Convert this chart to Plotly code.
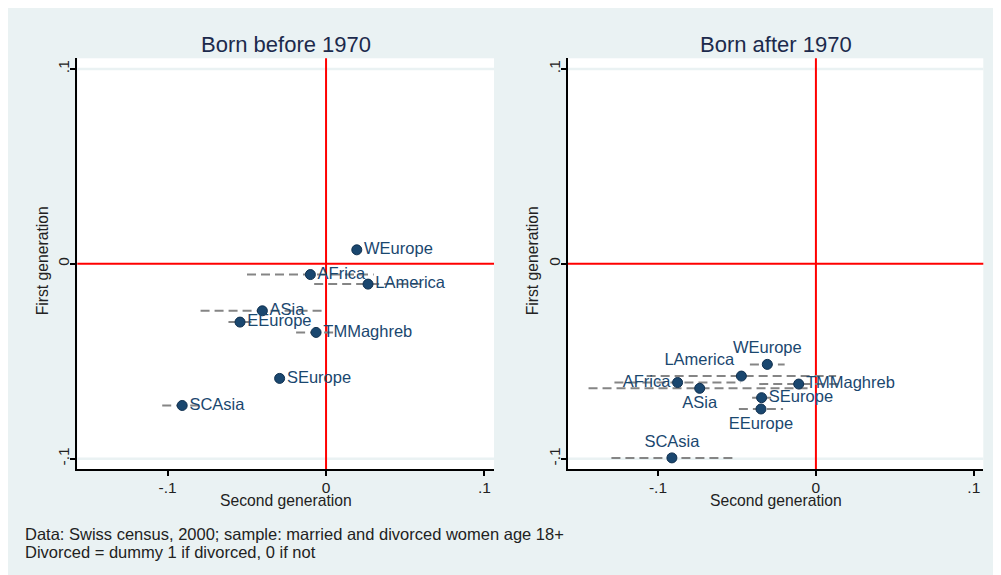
import plotly.graph_objects as go

# Born before 1970
regions_before = ["WEurope", "AFrica", "LAmerica", "ASia", "EEurope", "TMMaghreb", "SEurope", "SCAsia"]
second_before = [0.0194, -0.0099, 0.0265, -0.0402, -0.0543, -0.0063, -0.0293, -0.0908]
first_before = [0.0072, -0.0055, -0.0104, -0.0241, -0.0299, -0.0352, -0.0588, -0.0727]
ci_before = [0.003, 0.040, 0.034, 0.039, 0.0073, 0.0126, 0.0025, 0.0126]

# Born after 1970
regions_after = ["WEurope", "LAmerica", "AFrica", "ASia", "TMMaghreb", "SEurope", "EEurope", "SCAsia"]
second_after = [-0.0308, -0.0472, -0.0876, -0.0736, -0.0109, -0.0344, -0.0348, -0.0912]
first_after = [-0.0516, -0.0576, -0.0609, -0.0639, -0.0617, -0.0687, -0.0745, -0.0996]
ci_after = [0.011, 0.060, 0.040, 0.0704, 0.025, 0.006, 0.014, 0.0383]

tick_vals = [-0.1, 0, 0.1]
tick_text = ["-.1", "0", ".1"]

panel_titles = ["Born before 1970", "Born after 1970"]
notes = ["Data: Swiss census, 2000; sample: married and divorced women age 18+",
         "Divorced = dummy 1 if divorced, 0 if not"]

BG = "#eaf2f3"
NAVY = "#1a476f"
FONT = "Liberation Sans, Arial, sans-serif"

# the page body adds an 8px offset, so the figure is a bit smaller than the window
OFF = 8
W, H = 1001 - OFF, 575 - OFF


def fx(px):
    return (px - OFF) / W


def fy(py):
    return 1 - (py - OFF) / H


pos_before = ["middle right"] * 8
pos_after = ["top center", "top left", "middle left", "bottom center",
             "middle right", "middle right", "bottom center", "top center"]


def ci_trace(xs, ys, ci, xa, ya):
    lx, ly = [], []
    for x, y, c in zip(xs, ys, ci):
        lx += [x - c, x + c, None]
        ly += [y, y, None]
    return go.Scatter(x=lx, y=ly, mode="lines", xaxis=xa, yaxis=ya,
                      line=dict(color="#858585", width=2, dash="9px,5px"),
                      hoverinfo="skip", showlegend=False)


def point_trace(xs, ys, names, pos, xa, ya):
    return go.Scatter(x=xs, y=ys, mode="markers+text", text=names, textposition=pos,
                      xaxis=xa, yaxis=ya, showlegend=False,
                      marker=dict(color=NAVY, size=10, line=dict(color="#10304f", width=1)),
                      textfont=dict(color=NAVY, size=16.5, family=FONT))


fig = go.Figure()
fig.add_trace(ci_trace(second_before, first_before, ci_before, "x", "y"))
fig.add_trace(point_trace(second_before, first_before, regions_before, pos_before, "x", "y"))
fig.add_trace(ci_trace(second_after, first_after, ci_after, "x2", "y2"))
fig.add_trace(point_trace(second_after, first_after, regions_after, pos_after, "x2", "y2"))

ydom = [fy(469), fy(58.3)]
doms = [(fx(77.3), fx(494)), (fx(568), fx(983.3))]

xaxis_style = dict(range=[-0.157, 0.106], tickvals=tick_vals, ticktext=tick_text,
                   showline=True, linecolor="black", linewidth=2, ticks="outside",
                   ticklen=5, tickwidth=2, tickcolor="black", showgrid=False,
                   zeroline=False, automargin=False, ticklabelstandoff=-2,
                   tickfont=dict(size=15.5, color="#222", family=FONT))
yaxis_style = dict(range=[-0.1053, 0.1055], tickvals=tick_vals, ticktext=tick_text,
                   showline=True, linecolor="black", linewidth=2, ticks="outside",
                   ticklen=5, tickwidth=2, tickcolor="black", showgrid=False,
                   zeroline=False, automargin=False, ticklabelstandoff=-5,
                   tickangle=-90, tickfont=dict(size=15.5, color="#222", family=FONT))

fig.update_layout(
    width=W, height=H,
    margin=dict(l=0, r=0, t=0, b=0),
    paper_bgcolor=BG, plot_bgcolor="white",
    font=dict(family=FONT),
    xaxis=dict(domain=doms[0], anchor="y", **xaxis_style),
    yaxis=dict(domain=ydom, anchor="x", **yaxis_style),
    xaxis2=dict(domain=doms[1], anchor="y2", **xaxis_style),
    yaxis2=dict(domain=ydom, anchor="x2", **yaxis_style),
)

for xa, ya in [("x", "y"), ("x2", "y2")]:
    # light grid lines at the outer y ticks
    for v in tick_vals:
        if v != 0:
            fig.add_shape(type="line", xref=xa + " domain", yref=ya, x0=0, x1=1, y0=v, y1=v,
                          line=dict(color=BG, width=2.5), layer="below")
    # red reference lines at zero
    fig.add_shape(type="line", xref=xa, yref=ya + " domain", x0=0, x1=0, y0=0, y1=1,
                  line=dict(color="red", width=2), layer="below")
    fig.add_shape(type="line", xref=xa + " domain", yref=ya, x0=0, x1=1, y0=0, y1=0,
                  line=dict(color="red", width=2), layer="below")

for i, (d0, d1) in enumerate(doms):
    cx = (d0 + d1) / 2
    fig.add_annotation(text=panel_titles[i], xref="paper", yref="paper", x=cx, y=fy(44),
                       showarrow=False, xanchor="center", yanchor="middle",
                       font=dict(size=22, color="#1c2a4c", family=FONT))
    fig.add_annotation(text="Second generation", xref="paper", yref="paper", x=cx, y=fy(500),
                       showarrow=False, xanchor="center", yanchor="middle",
                       font=dict(size=15.7, color="#222", family=FONT))
    fig.add_annotation(text="First generation", xref="paper", yref="paper",
                       x=fx(43.3 if i == 0 else 533.3), y=fy(261), textangle=-90,
                       showarrow=False, xanchor="center", yanchor="middle",
                       font=dict(size=15.7, color="#222", family=FONT))

for j, line in enumerate(notes):
    fig.add_annotation(text=line, xref="paper", yref="paper", x=fx(23), y=fy(534 + 18 * j),
                       showarrow=False, xanchor="left", yanchor="middle",
                       font=dict(size=16.5, color="#222", family=FONT))

fig.write_html("out.html")
